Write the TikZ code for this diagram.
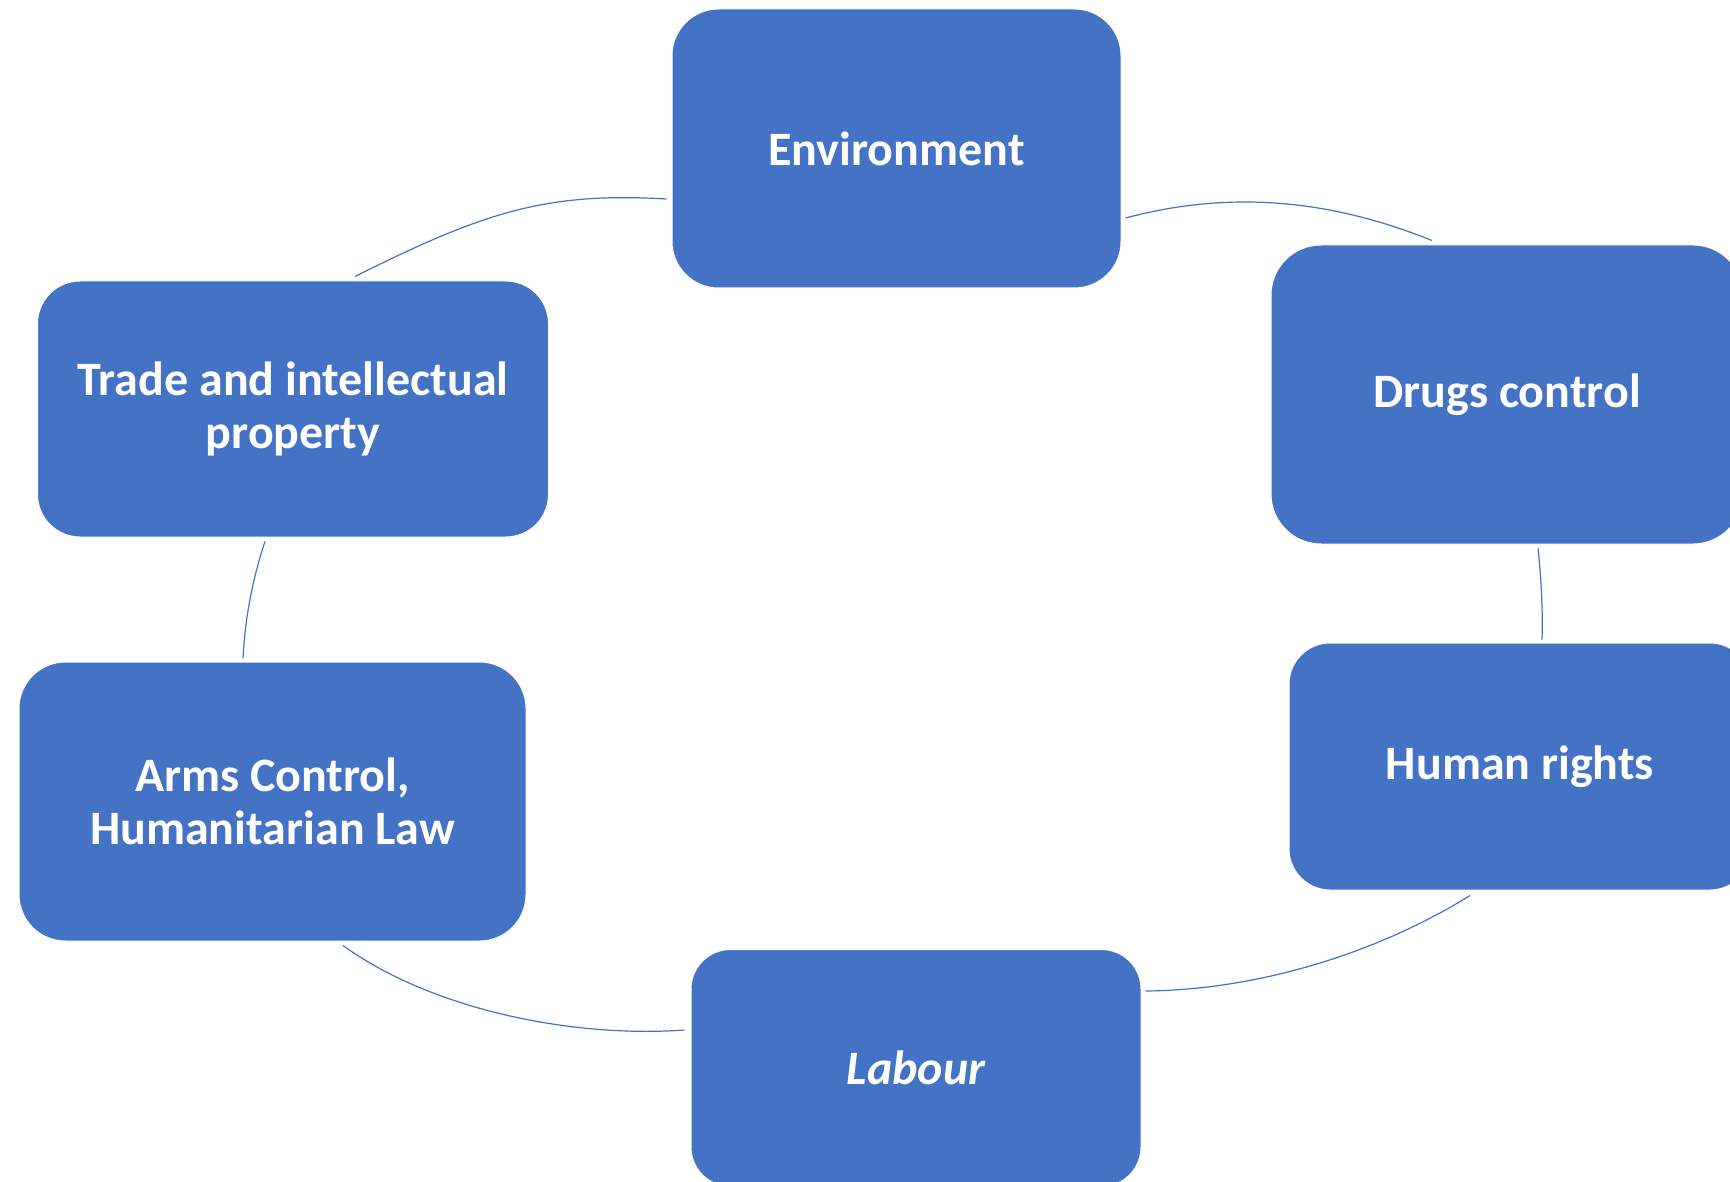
\documentclass[tikz,border=0pt]{standalone}
\usepackage{fontspec}
\setmainfont{Carlito}
\definecolor{sablue}{HTML}{4472C4}
\tikzset{
  boxnode/.style={fill=sablue, draw=white, line width=0.5pt, inner sep=0pt,
    text=white, align=center, font=\bfseries\fontsize{24}{26.5}\selectfont},
  link/.style={draw=sablue, line width=0.6pt}
}
\begin{document}
\begin{tikzpicture}[x=0.5pt,y=-0.5pt]
\useasboundingbox (0,0) rectangle (1730,1182);
\clip (0,0) rectangle (1730,1182);
\node[boxnode, minimum width=224.5pt, minimum height=139.5pt, rounded corners=23.25pt] (env) at (896.5,148.5) {Environment};
\node[boxnode, minimum width=255.5pt, minimum height=128pt, rounded corners=21.3pt] (trade) at (293,409) {Trade and intellectual\\property};
\node[boxnode, minimum width=236pt, minimum height=149.5pt, rounded corners=25pt] (drugs) at (1507,394.5) {Drugs control};
\node[boxnode, minimum width=253.5pt, minimum height=139.5pt, rounded corners=23.25pt] (arms) at (272.5,801.5) {Arms Control,\\Humanitarian Law};
\node[boxnode, minimum width=231pt, minimum height=123.5pt, rounded corners=20.6pt] (human) at (1520,766.5) {Human rights};
\node[boxnode, minimum width=225pt, minimum height=118.5pt, rounded corners=19.75pt, font=\bfseries\itshape\fontsize{24}{26.5}\selectfont] (labour) at (916,1068) {Labour};
\draw[link] ([shift={(62,-4)}]trade.north) .. controls +(130,-65) and +(-120,-7) .. ([shift={(-5,50.5)}]env.west);
\draw[link] ([shift={(4,69.5)}]env.east) .. controls +(105,-28) and +(-102,-41) .. ([shift={(-75,-4)}]drugs.north);
\draw[link] ([shift={(31,4)}]drugs.south) .. controls +(3,27) and +(1,-30) .. ([shift={(22,-3)}]human.north);
\draw[link] ([shift={(-50,5)}]human.south) .. controls +(-90,56) and +(115,-1) .. ([shift={(4,-77)}]labour.east);
\draw[link] ([shift={(-6,-38)}]labour.west) .. controls +(-110,8) and +(90,65) .. ([shift={(70.5,4)}]arms.south);
\draw[link] ([shift={(-29.5,-3)}]arms.north) .. controls +(2,-39) and +(-13,39) .. ([shift={(-28,4)}]trade.south);
\end{tikzpicture}
\end{document}
